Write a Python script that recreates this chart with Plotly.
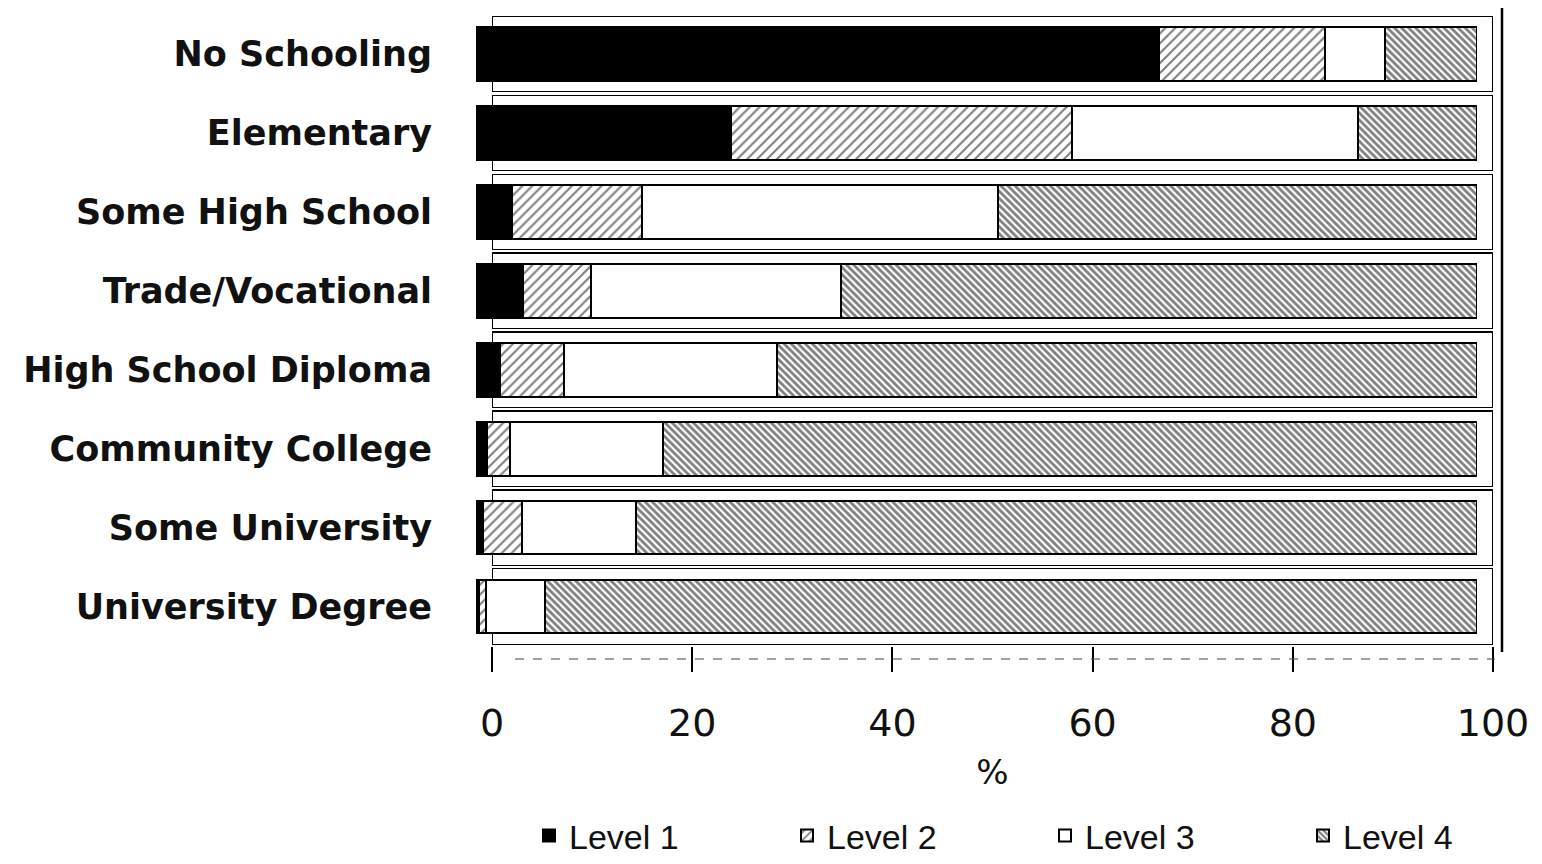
import plotly.graph_objects as go

categories = ["No Schooling", "Elementary", "Some High School", "Trade/Vocational",
              "High School Diploma", "Community College", "Some University", "University Degree"]
level1 = [68.2, 25.5, 3.6, 4.7, 2.4, 1.1, 0.7, 0.3]
level2 = [16.6, 34.0, 13.0, 6.8, 6.4, 2.3, 3.9, 0.7]
level3 = [6.0, 28.6, 35.5, 25.0, 21.3, 15.3, 11.4, 5.9]
level4 = [9.2, 11.9, 47.9, 63.5, 69.9, 81.3, 84.0, 93.1]
series_names = ["Level 1", "Level 2", "Level 3", "Level 4"]
x_ticks = [0, 20, 40, 60, 80, 100]
x_title = "%"

# the page body keeps an 8px margin, so the figure is offset by 8px
OFF = 8
W, H = 1526, 848


def fx(p):
    return (p - OFF) / W


def fy(p):
    return 1 - (p - OFF) / H


LABEL_FONT = "DejaVu Sans"

fig = go.Figure()

# back "tray" of each 3D bar (carries the value axis)
totals = [a + b + c + d for a, b, c, d in zip(level1, level2, level3, level4)]
fig.add_trace(go.Bar(
    y=categories, x=totals, orientation="h", xaxis="x", yaxis="y",
    width=0.955, showlegend=False, hoverinfo="skip",
    marker=dict(color="white", line=dict(color="black", width=1.2)),
))

markers = [
    dict(color="black", line=dict(color="black", width=2)),
    dict(color="white", line=dict(color="black", width=2),
         pattern=dict(shape="/", fgcolor="black", bgcolor="white", size=7, solidity=0.3)),
    dict(color="white", line=dict(color="black", width=2)),
    dict(color="white", line=dict(color="black", width=2),
         pattern=dict(shape="\\", fgcolor="black", bgcolor="white", size=5, solidity=0.55)),
]
for name, vals, mk in zip(series_names, [level1, level2, level3, level4], markers):
    fig.add_trace(go.Bar(
        y=categories, x=vals, orientation="h", name=name,
        xaxis="x2", yaxis="y", width=0.68, marker=mk,
    ))

fig.update_layout(
    width=W, height=H,
    barmode="stack",
    paper_bgcolor="white", plot_bgcolor="rgba(0,0,0,0)",
    margin=dict(l=0, r=0, t=0, b=0, pad=0, autoexpand=False),
    font=dict(family=LABEL_FONT, color="#111"),
    xaxis=dict(domain=[fx(492), fx(1493)], range=[0, 100], anchor="y",
               tickmode="array", tickvals=x_ticks,
               ticks="outside", ticklen=25, tickwidth=2, tickcolor="black",
               showline=False, showgrid=False, zeroline=False, automargin=False,
               tickfont=dict(family=LABEL_FONT, size=38, color="#111"),
               ticklabelstandoff=18,
               title=dict(text=x_title, standoff=16,
                          font=dict(family=LABEL_FONT, size=34, color="#111"))),
    xaxis2=dict(domain=[fx(476), fx(1477)], range=[0, 100], visible=False, anchor="y",
                automargin=False),
    yaxis=dict(domain=[fy(646), fy(14.5)], type="category",
               categoryorder="array", categoryarray=categories,
               range=[7.5, -0.5], anchor="x", showline=False, showgrid=False,
               zeroline=False, ticks="", automargin=False,
               ticklabelstandoff=59,
               tickfont=dict(family=LABEL_FONT, size=35, color="#111", weight="bold")),
    legend=dict(orientation="h", x=fx(529), xanchor="left", y=fy(836), yanchor="middle",
                traceorder="normal", entrywidth=213, entrywidthmode="pixels",
                font=dict(family="Liberation Sans", size=34, color="#111"),
                bgcolor="rgba(0,0,0,0)"),
    shapes=[
        dict(type="line", xref="paper", yref="paper", x0=fx(1502), x1=fx(1502),
             y0=fy(5), y1=fy(652), line=dict(color="black", width=2.5)),
        dict(type="line", xref="paper", yref="paper", x0=fx(515), x1=fx(1495),
             y0=fy(659), y1=fy(659), line=dict(color="#444", width=1.2, dash="dash")),
    ],
)

fig.write_html("out.html")
